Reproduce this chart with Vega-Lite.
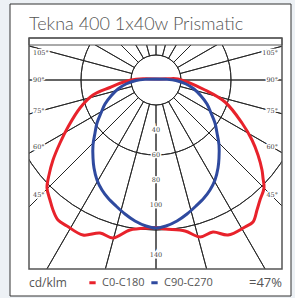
{
  "$schema": "https://vega.github.io/schema/vega-lite/v6.json",
  "width": 253,
  "height": 231,
  "autosize": {"type": "none"},
  "padding": {"left": 29, "top": 38, "right": 13, "bottom": 29},
  "background": "#edf1f5",
  "config": {"view": {"stroke": null}},
  "datasets": {
    "card": [{"x1": -116.8, "x2": 108, "y1": 60.8, "y2": -172.8}],
    "box": [{"x1": -101.6, "x2": 100.8, "y1": -151.2, "y2": 33.6}],
    "band": [{"x1": -101.6, "x2": 100.8, "y1": 28, "y2": 33.6}],
    "rings": [{"r": 20}, {"r": 40}, {"r": 60}, {"r": 80}, {"r": 100}, {"r": 120}, {"r": 140}, {"r": 160}, {"r": 180}],
    "spokes": [{"a": 0}, {"a": 15}, {"a": 30}, {"a": 45}, {"a": 60}, {"a": 75}, {"a": 90}, {"a": 105}, {"a": 120}, {"a": 135}, {"a": 150}, {"a": 165}, {"a": 180}, {"a": 195}, {"a": 210}, {"a": 225}, {"a": 240}, {"a": 255}, {"a": 270}, {"a": 285}, {"a": 300}, {"a": 315}, {"a": 330}, {"a": 345}],
    "curves": [
      {"series": "C0-C180", "order": 1, "x": 0, "y": 0.8},
      {"series": "C0-C180", "order": 2, "x": -10.4, "y": 1.0},
      {"series": "C0-C180", "order": 3, "x": -20.8, "y": -0.2},
      {"series": "C0-C180", "order": 4, "x": -28.8, "y": -2.6},
      {"series": "C0-C180", "order": 5, "x": -36.8, "y": -6.0},
      {"series": "C0-C180", "order": 6, "x": -50.4, "y": -12},
      {"series": "C0-C180", "order": 7, "x": -60.8, "y": -22.4},
      {"series": "C0-C180", "order": 8, "x": -70.4, "y": -37.6},
      {"series": "C0-C180", "order": 9, "x": -76.8, "y": -50.4},
      {"series": "C0-C180", "order": 10, "x": -82.4, "y": -64},
      {"series": "C0-C180", "order": 11, "x": -85.6, "y": -76},
      {"series": "C0-C180", "order": 12, "x": -87.2, "y": -86.4},
      {"series": "C0-C180", "order": 13, "x": -84.8, "y": -96},
      {"series": "C0-C180", "order": 14, "x": -82.4, "y": -104},
      {"series": "C0-C180", "order": 15, "x": -78.4, "y": -112},
      {"series": "C0-C180", "order": 16, "x": -71.2, "y": -116.8},
      {"series": "C0-C180", "order": 17, "x": -58.4, "y": -124},
      {"series": "C0-C180", "order": 18, "x": -44.8, "y": -122.4},
      {"series": "C0-C180", "order": 19, "x": -34.4, "y": -126.4},
      {"series": "C0-C180", "order": 20, "x": -20.8, "y": -120},
      {"series": "C0-C180", "order": 21, "x": -4.8, "y": -118.4},
      {"series": "C0-C180", "order": 22, "x": 0, "y": -118},
      {"series": "C0-C180", "order": 23, "x": 7.2, "y": -119.2},
      {"series": "C0-C180", "order": 24, "x": 23.2, "y": -120.8},
      {"series": "C0-C180", "order": 25, "x": 35.2, "y": -125.6},
      {"series": "C0-C180", "order": 26, "x": 45.6, "y": -121.6},
      {"series": "C0-C180", "order": 27, "x": 57.6, "y": -124},
      {"series": "C0-C180", "order": 28, "x": 71.2, "y": -117.6},
      {"series": "C0-C180", "order": 29, "x": 77.6, "y": -113.6},
      {"series": "C0-C180", "order": 30, "x": 80.8, "y": -104},
      {"series": "C0-C180", "order": 31, "x": 83.2, "y": -96},
      {"series": "C0-C180", "order": 32, "x": 86.4, "y": -86.4},
      {"series": "C0-C180", "order": 33, "x": 85.6, "y": -78.4},
      {"series": "C0-C180", "order": 34, "x": 84.8, "y": -72},
      {"series": "C0-C180", "order": 35, "x": 81.6, "y": -60},
      {"series": "C0-C180", "order": 36, "x": 76.8, "y": -48},
      {"series": "C0-C180", "order": 37, "x": 68.8, "y": -34.4},
      {"series": "C0-C180", "order": 38, "x": 55.2, "y": -17.6},
      {"series": "C0-C180", "order": 39, "x": 39.2, "y": -8},
      {"series": "C0-C180", "order": 40, "x": 17.6, "y": 0.8},
      {"series": "C0-C180", "order": 41, "x": 9.6, "y": 1.0},
      {"series": "C0-C180", "order": 42, "x": 0, "y": 0.8},
      {"series": "C90-C270", "order": 1, "x": 0, "y": 0.8},
      {"series": "C90-C270", "order": 2, "x": -8, "y": 0.56},
      {"series": "C90-C270", "order": 3, "x": -16, "y": -0.4},
      {"series": "C90-C270", "order": 4, "x": -24, "y": -3.2},
      {"series": "C90-C270", "order": 5, "x": -30.4, "y": -7.2},
      {"series": "C90-C270", "order": 6, "x": -36, "y": -12.8},
      {"series": "C90-C270", "order": 7, "x": -40.8, "y": -19.2},
      {"series": "C90-C270", "order": 8, "x": -44, "y": -26.4},
      {"series": "C90-C270", "order": 9, "x": -47.2, "y": -34.4},
      {"series": "C90-C270", "order": 10, "x": -48.8, "y": -42.4},
      {"series": "C90-C270", "order": 11, "x": -50.4, "y": -52},
      {"series": "C90-C270", "order": 12, "x": -50.4, "y": -62.4},
      {"series": "C90-C270", "order": 13, "x": -49.6, "y": -70.4},
      {"series": "C90-C270", "order": 14, "x": -47.2, "y": -80},
      {"series": "C90-C270", "order": 15, "x": -43.2, "y": -88},
      {"series": "C90-C270", "order": 16, "x": -38.4, "y": -94.4},
      {"series": "C90-C270", "order": 17, "x": -32, "y": -100.8},
      {"series": "C90-C270", "order": 18, "x": -24.8, "y": -107.2},
      {"series": "C90-C270", "order": 19, "x": -16.8, "y": -112.8},
      {"series": "C90-C270", "order": 20, "x": -8, "y": -116.8},
      {"series": "C90-C270", "order": 21, "x": 0, "y": -118.4},
      {"series": "C90-C270", "order": 22, "x": 8, "y": -116.8},
      {"series": "C90-C270", "order": 23, "x": 16.8, "y": -112.8},
      {"series": "C90-C270", "order": 24, "x": 24.8, "y": -107.2},
      {"series": "C90-C270", "order": 25, "x": 32, "y": -100.8},
      {"series": "C90-C270", "order": 26, "x": 38.4, "y": -94.4},
      {"series": "C90-C270", "order": 27, "x": 43.2, "y": -88},
      {"series": "C90-C270", "order": 28, "x": 47.2, "y": -80},
      {"series": "C90-C270", "order": 29, "x": 49.6, "y": -70.4},
      {"series": "C90-C270", "order": 30, "x": 50.4, "y": -62.4},
      {"series": "C90-C270", "order": 31, "x": 50.4, "y": -52},
      {"series": "C90-C270", "order": 32, "x": 48.8, "y": -42.4},
      {"series": "C90-C270", "order": 33, "x": 47.2, "y": -34.4},
      {"series": "C90-C270", "order": 34, "x": 44, "y": -26.4},
      {"series": "C90-C270", "order": 35, "x": 40.8, "y": -19.2},
      {"series": "C90-C270", "order": 36, "x": 36, "y": -12.8},
      {"series": "C90-C270", "order": 37, "x": 30.4, "y": -7.2},
      {"series": "C90-C270", "order": 38, "x": 24, "y": -3.2},
      {"series": "C90-C270", "order": 39, "x": 16, "y": -0.4},
      {"series": "C90-C270", "order": 40, "x": 8, "y": 0.56},
      {"series": "C90-C270", "order": 41, "x": 0, "y": 0.8}
    ],
    "leftLabels": [
      {"label": "105°", "x": -98.4, "y": 21.6},
      {"label": "90°", "x": -98.4, "y": 0},
      {"label": "75°", "x": -98.4, "y": -24.8},
      {"label": "60°", "x": -98.4, "y": -53.6},
      {"label": "45°", "x": -98.4, "y": -92}
    ],
    "rightLabels": [
      {"label": "105°", "x": 97.6, "y": 21.6},
      {"label": "90°", "x": 97.6, "y": 0},
      {"label": "75°", "x": 97.6, "y": -24.8},
      {"label": "60°", "x": 97.6, "y": -53.6},
      {"label": "45°", "x": 97.6, "y": -92}
    ],
    "radLabels": [
      {"label": "40", "x": 0, "y": -40},
      {"label": "60", "x": 0, "y": -60},
      {"label": "80", "x": 0, "y": -80},
      {"label": "100", "x": 0, "y": -100},
      {"label": "140", "x": 0, "y": -140}
    ],
    "heading": [{"text": "Tekna 400 1x40w Prismatic", "x": -101.6, "y": 40}],
    "unitNote": [{"text": "cd/klm", "x": -101.6, "y": -165.6}],
    "effNote": [{"text": "=47%", "x": 100.8, "y": -165.6}]
  },
  "layer": [
    {
      "data": {"name": "card"},
      "mark": {"type": "rect", "fill": "#ffffff", "stroke": "#333333", "strokeWidth": 1, "clip": false},
      "encoding": {
        "x": {"field": "x1", "type": "quantitative", "scale": {"domain": [-101.6, 100.8], "nice": false, "zero": false}, "axis": null},
        "x2": {"field": "x2"},
        "y": {"field": "y1", "type": "quantitative", "scale": {"domain": [-151.2, 33.6], "nice": false, "zero": false}, "axis": null},
        "y2": {"field": "y2"}
      }
    },
    {
      "data": {"name": "rings"},
      "mark": {"type": "arc", "theta": 0, "theta2": 6.2832, "fill": null, "stroke": "#222222", "strokeWidth": 0.9, "clip": true},
      "encoding": {
        "x": {"datum": 0, "type": "quantitative"},
        "y": {"datum": 0, "type": "quantitative"},
        "radius": {"field": "r", "type": "quantitative", "scale": {"type": "linear", "domain": [0, 200], "range": [0, 250], "zero": true}}
      }
    },
    {
      "data": {"name": "spokes"},
      "mark": {"type": "arc", "fill": null, "stroke": "#222222", "strokeWidth": 0.9, "clip": true},
      "encoding": {
        "x": {"datum": 0, "type": "quantitative"},
        "y": {"datum": 0, "type": "quantitative"},
        "theta": {"field": "a", "type": "quantitative", "stack": null, "scale": {"type": "linear", "domain": [0, 360], "range": [0, 6.283185307]}},
        "theta2": {"field": "a"},
        "radius": {"datum": 300, "type": "quantitative"},
        "radius2": {"datum": 20}
      }
    },
    {
      "data": {"name": "band"},
      "mark": {"type": "rect", "fill": "#ffffff", "stroke": "#555555", "strokeWidth": 1, "clip": false},
      "encoding": {
        "x": {"field": "x1", "type": "quantitative"},
        "x2": {"field": "x2"},
        "y": {"field": "y1", "type": "quantitative"},
        "y2": {"field": "y2"}
      }
    },
    {
      "data": {"name": "box"},
      "mark": {"type": "rect", "fill": null, "stroke": "#555555", "strokeWidth": 1.5, "clip": false},
      "encoding": {
        "x": {"field": "x1", "type": "quantitative"},
        "x2": {"field": "x2"},
        "y": {"field": "y1", "type": "quantitative"},
        "y2": {"field": "y2"}
      }
    },
    {
      "data": {"name": "leftLabels"},
      "mark": {"type": "text", "align": "left", "baseline": "middle", "font": "DejaVu Serif", "fontSize": 6.5, "stroke": "#ffffff", "strokeWidth": 3, "fill": "#ffffff"},
      "encoding": {"x": {"field": "x", "type": "quantitative"}, "y": {"field": "y", "type": "quantitative"}, "text": {"field": "label"}}
    },
    {
      "data": {"name": "rightLabels"},
      "mark": {"type": "text", "align": "right", "baseline": "middle", "font": "DejaVu Serif", "fontSize": 6.5, "stroke": "#ffffff", "strokeWidth": 3, "fill": "#ffffff"},
      "encoding": {"x": {"field": "x", "type": "quantitative"}, "y": {"field": "y", "type": "quantitative"}, "text": {"field": "label"}}
    },
    {
      "data": {"name": "radLabels"},
      "mark": {"type": "text", "align": "center", "baseline": "middle", "font": "DejaVu Serif", "fontSize": 6.5, "stroke": "#ffffff", "strokeWidth": 3, "fill": "#ffffff"},
      "encoding": {"x": {"field": "x", "type": "quantitative"}, "y": {"field": "y", "type": "quantitative"}, "text": {"field": "label"}}
    },
    {
      "data": {"name": "leftLabels"},
      "mark": {"type": "text", "align": "left", "baseline": "middle", "font": "DejaVu Serif", "fontSize": 6.5, "fill": "#444444"},
      "encoding": {"x": {"field": "x", "type": "quantitative"}, "y": {"field": "y", "type": "quantitative"}, "text": {"field": "label"}}
    },
    {
      "data": {"name": "rightLabels"},
      "mark": {"type": "text", "align": "right", "baseline": "middle", "font": "DejaVu Serif", "fontSize": 6.5, "fill": "#444444"},
      "encoding": {"x": {"field": "x", "type": "quantitative"}, "y": {"field": "y", "type": "quantitative"}, "text": {"field": "label"}}
    },
    {
      "data": {"name": "radLabels"},
      "mark": {"type": "text", "align": "center", "baseline": "middle", "font": "DejaVu Serif", "fontSize": 6.5, "fill": "#444444"},
      "encoding": {"x": {"field": "x", "type": "quantitative"}, "y": {"field": "y", "type": "quantitative"}, "text": {"field": "label"}}
    },
    {
      "data": {"name": "curves"},
      "mark": {"type": "line", "interpolate": "catmull-rom", "strokeWidth": 3, "clip": true},
      "encoding": {
        "x": {"field": "x", "type": "quantitative"},
        "y": {"field": "y", "type": "quantitative"},
        "order": {"field": "order", "type": "quantitative"},
        "color": {
          "field": "series", "type": "nominal",
          "scale": {"domain": ["C0-C180", "C90-C270"], "range": ["#e8222b", "#2f4a9f"]},
          "legend": {"orient": "none", "legendX": 58, "legendY": 239, "direction": "horizontal", "title": null, "symbolType": "stroke", "symbolSize": 40, "symbolStrokeWidth": 3, "labelFont": "Open Sans", "labelFontSize": 11, "labelColor": "#555555", "labelOffset": 4, "columnPadding": 0, "padding": 0}
        }
      }
    },
    {
      "data": {"name": "heading"},
      "mark": {"type": "text", "align": "left", "baseline": "alphabetic", "font": "Lato", "fontSize": 18, "fontWeight": 300, "fill": "#555555", "clip": false},
      "encoding": {"x": {"field": "x", "type": "quantitative"}, "y": {"field": "y", "type": "quantitative"}, "text": {"field": "text"}}
    },
    {
      "data": {"name": "unitNote"},
      "mark": {"type": "text", "align": "left", "baseline": "alphabetic", "font": "Open Sans", "fontSize": 12, "fill": "#555555", "clip": false},
      "encoding": {"x": {"field": "x", "type": "quantitative"}, "y": {"field": "y", "type": "quantitative"}, "text": {"field": "text"}}
    },
    {
      "data": {"name": "effNote"},
      "mark": {"type": "text", "align": "right", "baseline": "alphabetic", "font": "Open Sans", "fontSize": 13, "fill": "#555555", "clip": false},
      "encoding": {"x": {"field": "x", "type": "quantitative"}, "y": {"field": "y", "type": "quantitative"}, "text": {"field": "text"}}
    }
  ]
}
